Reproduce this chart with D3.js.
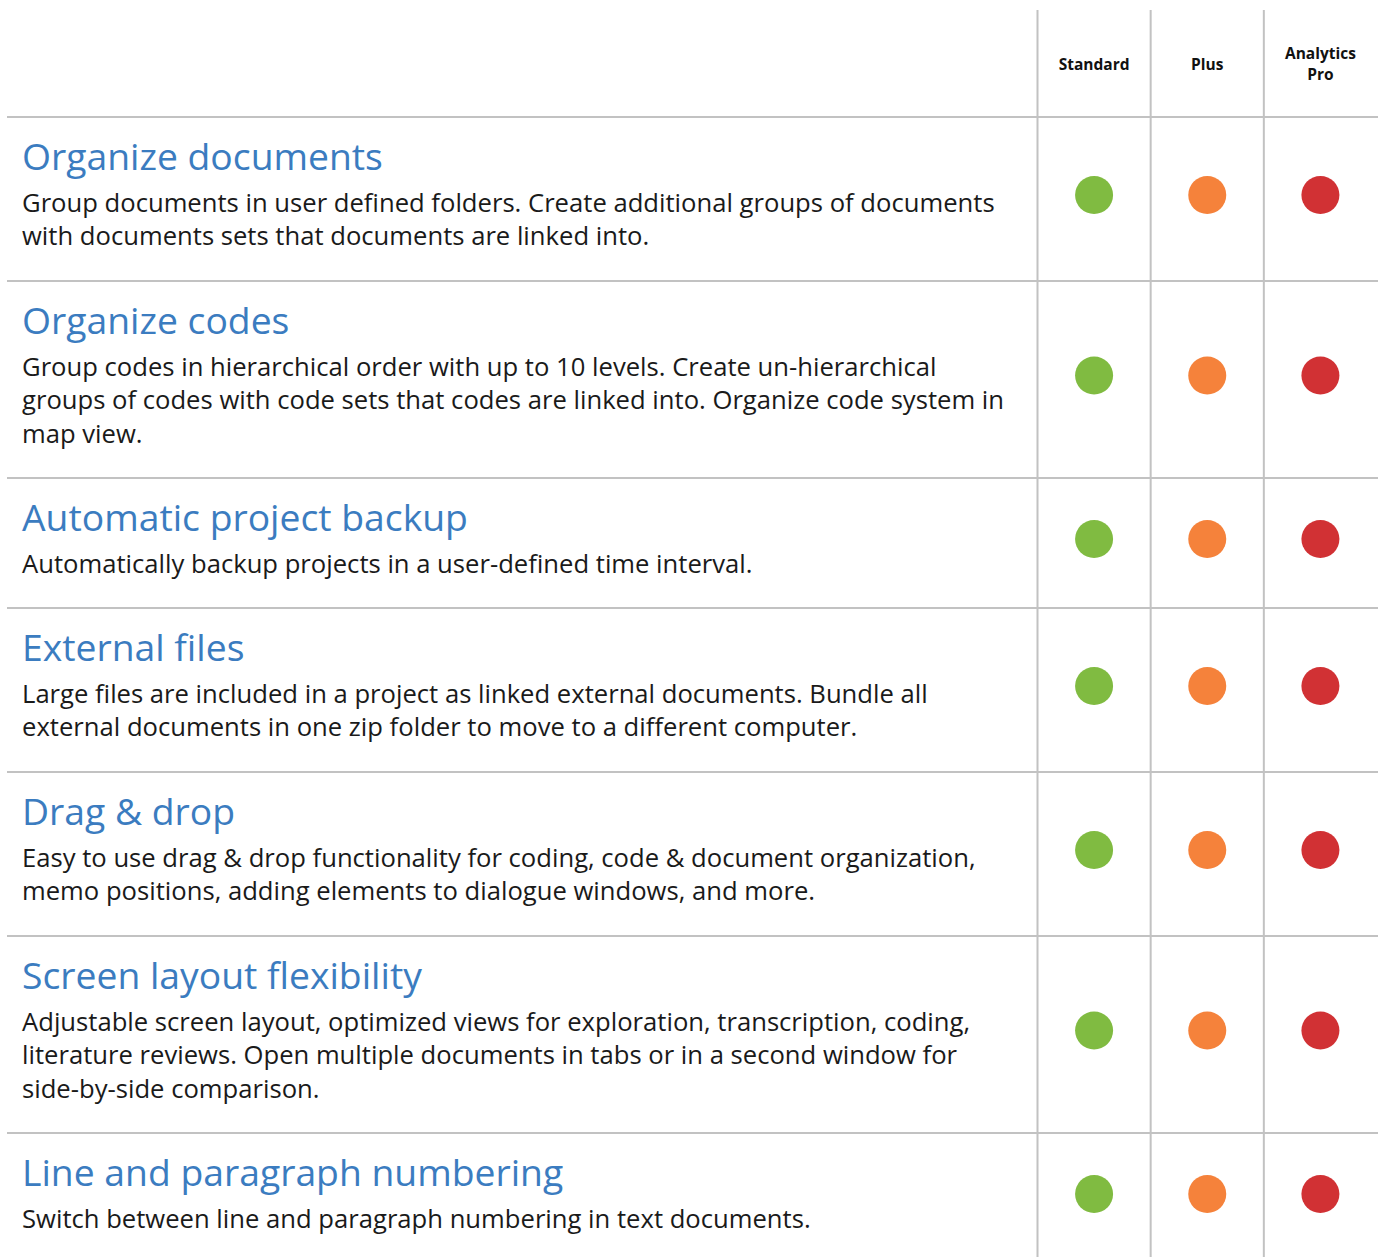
<!DOCTYPE html>
<html><head><meta charset="utf-8">
<script src="https://cdn.jsdelivr.net/npm/d3@7"></script>
<style>html,body{margin:0;padding:0;background:#fff;}</style>
</head><body>
<script>
const plans = ["Standard", "Plus", "Analytics Pro"];
const planLabels = [["Standard"], ["Plus"], ["Analytics", "Pro"]];
const planColors = ["#80bb41", "#f5823b", "#d13134"];
const features = ["Organize documents", "Organize codes", "Automatic project backup", "External files", "Drag & drop", "Screen layout flexibility", "Line and paragraph numbering"];
const descriptions = [
  ["Group documents in user defined folders. Create additional groups of documents", "with documents sets that documents are linked into."],
  ["Group codes in hierarchical order with up to 10 levels. Create un-hierarchical", "groups of codes with code sets that codes are linked into. Organize code system in", "map view."],
  ["Automatically backup projects in a user-defined time interval."],
  ["Large files are included in a project as linked external documents. Bundle all", "external documents in one zip folder to move to a different computer."],
  ["Easy to use drag & drop functionality for coding, code & document organization,", "memo positions, adding elements to dialogue windows, and more."],
  ["Adjustable screen layout, optimized views for exploration, transcription, coding,", "literature reviews. Open multiple documents in tabs or in a second window for", "side-by-side comparison."],
  ["Switch between line and paragraph numbering in text documents."]
];
const available = [
  [true, true, true], [true, true, true], [true, true, true], [true, true, true],
  [true, true, true], [true, true, true], [true, true, true]
];

const W = 1378, H = 1257;
const headerH = 117, lineH = 33.4;
const svg = d3.select("body").append("svg").attr("width", W).attr("height", H)
  .style("font-family", "'Open Sans', sans-serif");

const rows = [];
let y = headerH;
features.forEach((f, i) => {
  const h = Math.round(96.7 + 33.5 * descriptions[i].length);
  rows.push({ top: y, h });
  y += h;
});

const x = d3.scaleBand().domain(plans).range([1037.5, 1377]).paddingInner(0).paddingOuter(0);
const grid = "#c2c2c2";

x.domain().forEach(p => {
  svg.append("line").attr("x1", x(p)).attr("x2", x(p)).attr("y1", 10).attr("y2", H)
    .attr("stroke", grid).attr("stroke-width", 2);
});
rows.forEach(r => {
  svg.append("line").attr("x1", 7).attr("x2", W).attr("y1", r.top).attr("y2", r.top)
    .attr("stroke", grid).attr("stroke-width", 2);
});

plans.forEach((p, j) => {
  const lbl = planLabels[j];
  const cx = x(p) + x.bandwidth() / 2;
  const t = svg.append("text").attr("x", cx).attr("text-anchor", "middle")
    .attr("font-size", 15.5).attr("font-weight", 700).attr("fill", "#111");
  lbl.forEach((s, k) => {
    const by = lbl.length === 1 ? 70 : 59 + k * 21;
    t.append("tspan").attr("x", cx).attr("y", by).text(s);
  });
});

const textFit = 973;
features.forEach((f, i) => {
  const r = rows[i];
  svg.append("text").attr("x", 22).attr("y", r.top + 53)
    .attr("font-size", 36).attr("fill", "#3b7cc0").attr("class", "title").text(f);
  descriptions[i].forEach((ln, k) => {
    svg.append("text").attr("x", 22).attr("y", r.top + 95 + k * lineH)
      .attr("font-size", 25).attr("fill", "#1a1a1a").attr("class", "desc").text(ln);
  });
  plans.forEach((p, j) => {
    if (!available[i][j]) return;
    svg.append("circle").attr("cx", x(p) + x.bandwidth() / 2).attr("cy", r.top + r.h / 2 - 4)
      .attr("r", 19).attr("fill", planColors[j]);
  });
});

const d0 = svg.selectAll("text.desc").node();
const w0 = d0.getComputedTextLength();
svg.selectAll("text.desc").attr("font-size", 25 * textFit / w0);
const t0 = svg.selectAll("text.title").node();
const tw = t0.getComputedTextLength();
svg.selectAll("text.title").attr("font-size", 36 * 361 / tw);
</script>
</body></html>
